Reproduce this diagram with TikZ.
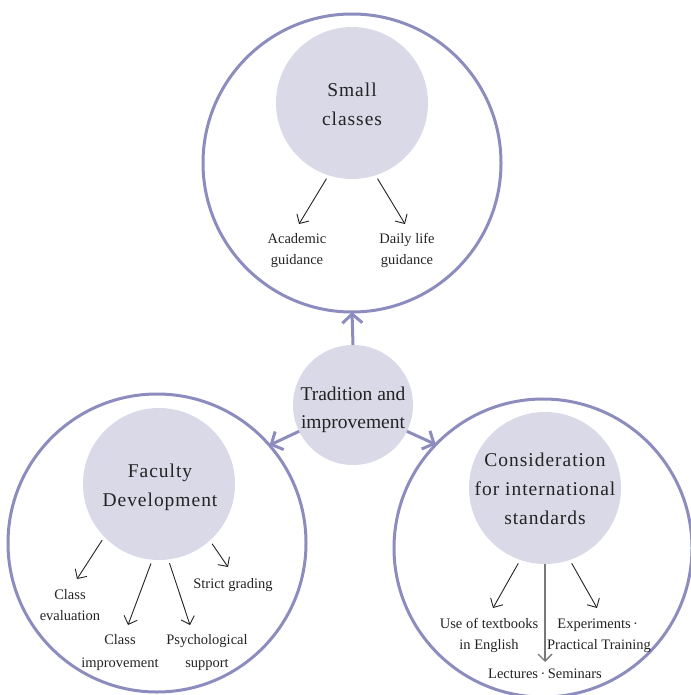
\documentclass[tikz,border=0pt]{standalone}
\usepackage{fontspec}
\setmainfont{Liberation Serif}
\newfontfamily\spacedfont[LetterSpace=5]{Liberation Serif}
\usetikzlibrary{arrows.meta,calc}
\definecolor{lav}{RGB}{140,140,190}
\definecolor{lavfill}{RGB}{217,217,232}
\definecolor{ink}{RGB}{35,35,35}
\definecolor{midgray}{RGB}{120,120,120}
\newcommand{\middot}{\kern2.5pt·\kern2.5pt}
\begin{document}
\begin{tikzpicture}[x=1pt,y=-1pt,
  outer/.style={circle,draw=lav,line width=3pt,minimum size=298pt,inner sep=0pt,outer sep=0pt},
  core/.style={circle,fill=lavfill,minimum size=152pt,inner sep=0pt,outer sep=0pt},
  hub/.style={circle,fill=lavfill,minimum size=120pt,inner sep=0pt,outer sep=0pt},
  bigtext/.style={anchor=base,align=center,inner sep=0pt,text=ink,font=\fontsize{19.5}{29}\selectfont\spacedfont},
  hubtext/.style={anchor=base,align=center,inner sep=0pt,text=ink,font=\fontsize{19.5}{28}\selectfont},
  smalltext/.style={anchor=base,align=center,inner sep=0pt,text=ink,font=\fontsize{14.5}{21}\selectfont},
  thickarrow/.style={draw=lav,line width=3pt,-{Straight Barb[length=9pt,width=20pt]}},
  thinarrow/.style={draw=ink,line width=0.9pt,shorten <=4pt,-{Straight Barb[length=7pt,width=14pt]}},
  grayarrow/.style={draw=midgray,line width=1.4pt,-{Straight Barb[length=7pt,width=14pt]}}
]
\useasboundingbox (0,0) rectangle (690,695);

% big outer circles
\node[outer] (T) at (352,163) {};
\node[outer] (L) at (157,543) {};
\node[outer] (R) at (543,548) {};

% filled cores
\node[core] (sc) at (352,103) {};
\node[core] (fd) at (159,484) {};
\node[core] (ci) at (545,488) {};
\node[hub]  (c)  at (353,405) {};

% core texts (positioned at baseline of last line)
\node[bigtext] (sct) at (352,126) {Small\\classes};
\node[bigtext] (fdt) at (160,506) {Faculty\\Development};
\node[bigtext] (cit) at (545,524) {Consideration\\for international\\standards};
\node[hubtext] (ct) at (353,428) {Tradition and\\improvement};

% thick arrows from hub
\draw[thickarrow] (c.90) -- (T.270);
\draw[thickarrow] (c.206) -- (L.41);
\draw[thickarrow] (c.334) -- (R.136);

% labels
\node[smalltext] (acad) at (297,264) {Academic\\guidance};
\node[smalltext] (daily) at (407,264) {Daily life\\guidance};
\node[smalltext] (ceval) at (70,620) {Class\\evaluation};
\node[smalltext,font=\fontsize{14.5}{22.5}\selectfont] (cimp) at (120,667) {Class\\improvement};
\node[smalltext,font=\fontsize{14.5}{22.5}\selectfont] (psy) at (207,667) {Psychological\\support};
\node[smalltext] (strict) at (233,588) {Strict grading};
\node[smalltext] (text) at (489,649) {Use of textbooks\\in English};
\node[smalltext] (lect) at (545,678) {Lectures\middot Seminars};
\node[smalltext] (exp) at (599,649) {Experiments\middot\\Practical Training};

% thin arrows
\draw[thinarrow] (sc.252) -- ($(acad.base)+(2,-40)$);
\draw[thinarrow] (sc.288) -- ($(daily.base)+(-2,-40)$);
\draw[thinarrow] (fd.224) -- ($(ceval.base)+(7,-41)$);
\draw[thinarrow] (fd.265) -- ($(cimp.base)+(8,-42)$);
\draw[thinarrow] (fd.277) -- ($(psy.base)+(-17,-42)$);
\draw[thinarrow] (fd.312) -- ($(strict.base)+(-5,-21)$);
\draw[thinarrow] (ci.251) -- ($(text.base)+(4,-41)$);
\draw[grayarrow] (ci.270) -- ($(lect.base)+(0,-16)$);
\draw[thinarrow] (ci.289) -- ($(exp.base)+(-2,-41)$);
\end{tikzpicture}
\end{document}
